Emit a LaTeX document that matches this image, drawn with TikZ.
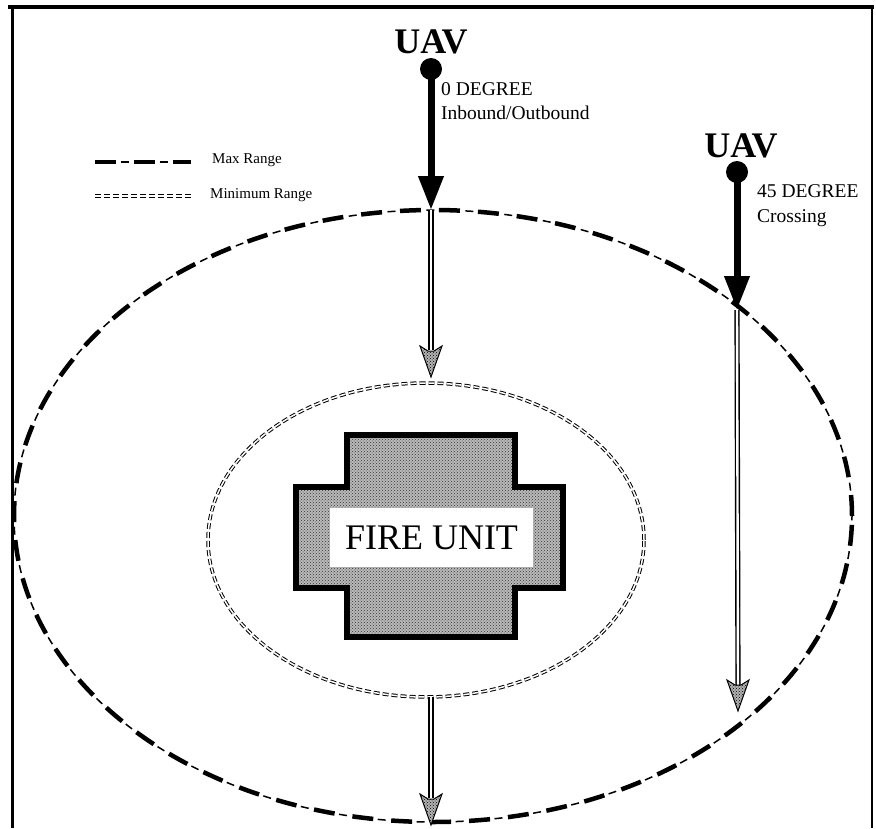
\documentclass[tikz,border=0pt]{standalone}
\usepackage{fontspec}
\setmainfont{Liberation Serif}
\usetikzlibrary{arrows.meta,patterns}
\begin{document}
\begin{tikzpicture}[x=1pt,y=-1pt,
  frame/.style={line width=3pt,black},
  maxthick/.style={line width=4.5pt,dash pattern=on 21pt off 18pt},
  maxthin/.style={line width=1.5pt,dash pattern=on 8pt off 31pt,dash phase=13.5pt},
  minrange/.style={line width=1pt,double,double distance=1.5pt,dash pattern=on 6pt off 3pt},
  crossstyle/.style={line width=6pt,draw=black,preaction={fill=gray!55},pattern=crosshatch dots,pattern color=black!80},
  bigarrow/.style={line width=7pt,-{Triangle[length=34pt,width=24pt]}},
  shaft/.style={line width=1.4pt,double,double distance=2.4pt},
  headstyle/.style={line width=1pt,draw=black,preaction={fill=gray!60},pattern=crosshatch dots,pattern color=black},
  uavlabel/.style={font=\bfseries\fontsize{36}{40}\selectfont,anchor=base},
  side/.style={font=\fontsize{19.5}{22}\selectfont,anchor=base west,inner sep=0pt},
  legend/.style={font=\fontsize{15}{18}\selectfont,anchor=base west,inner sep=0pt}
]
\newcommand\dothead[1]{\path[headstyle] (#1) -- ++(-11,-31) -- ++(8,5) -- ++(6,0) -- ++(8,-5) -- cycle;}
\useasboundingbox (0,0) rectangle (876,828);
% frame
\draw[frame,line width=3.5pt] (8,7) -- (874,7);
\draw[frame] (12,5) -- (12,828);
\draw[frame,line width=1.6pt] (872,7) -- (872,828);
% legend
\draw[maxthick] (95,162) -- (191,162);
\draw[maxthin] (95,162) -- (191,162);
\node[legend] (lmax) at (212,163) {Max Range};
\draw[minrange] (95,196) -- (191,196);
\node[legend] (lmin) at (210,198) {Minimum Range};
% max range
\draw[maxthin] (433,516) ellipse [x radius=419pt,y radius=306pt];
\draw[maxthick] (433,516) ellipse [x radius=419pt,y radius=306pt];
% min range
\draw[minrange] (426,540) ellipse [x radius=218pt,y radius=157pt];
% fire unit
\path[crossstyle] (347,435) -- (515,435) -- (515,487) -- (563,487) -- (563,588) -- (515,588) -- (515,637) -- (347,637) -- (347,588) -- (296,588) -- (296,487) -- (347,487) -- cycle;
\fill[white] (330,508) rectangle (533,567);
\node[font=\fontsize{36}{40}\selectfont] (fu) at (431.5,538) {FIRE UNIT};
% UAV 1 (0 degree)
\node[uavlabel] (uav1) at (431,53) {UAV};
\coordinate (c1) at (431,69);
\coordinate (t1) at (431,210);
\coordinate (h1) at (431,350);
\coordinate (k1) at (431,377);
\coordinate (s2) at (431,697);
\coordinate (h2) at (431,798);
\coordinate (k2) at (431,825);
\draw[bigarrow] (c1) -- (t1);
\fill (c1) circle (11);
\draw[shaft] (t1) -- (h1);
\dothead{k1}
\draw[shaft] (s2) -- (h2);
\dothead{k2}
\node[side] (d0) at (441,95) {0 DEGREE};
\node[side] (io) at (441,119) {Inbound/Outbound};
% UAV 2 (45 degree)
\node[uavlabel] (uav2) at (741,157) {UAV};
\coordinate (c3) at (737,172);
\coordinate (t3) at (737,310);
\coordinate (h3) at (738,685);
\coordinate (k3) at (738,711);
\draw[bigarrow] (c3) -- (t3);
\fill (c3) circle (11);
\draw[shaft] (t3) -- (h3);
\dothead{k3}
\node[side] (d45) at (757,197) {45 DEGREE};
\node[side] (cr) at (757,222) {Crossing};
\end{tikzpicture}
\end{document}
